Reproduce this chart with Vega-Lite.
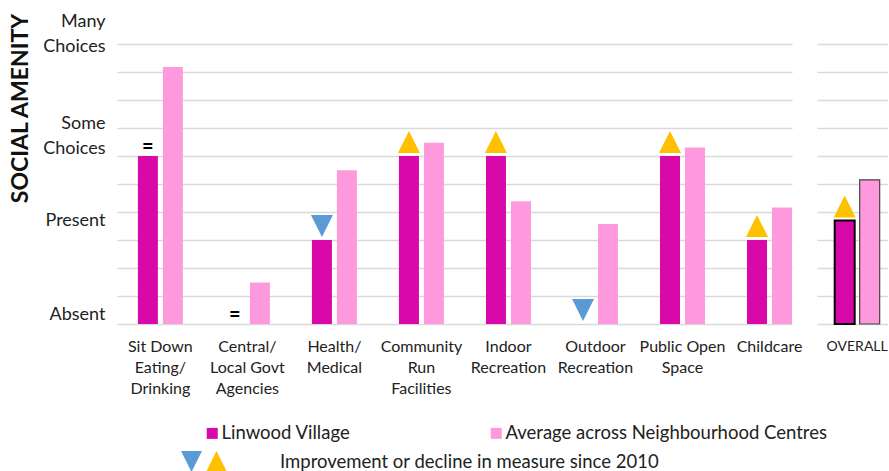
{
  "$schema": "https://vega.github.io/schema/vega-lite/v6.json",
  "autosize": {"type": "pad"},
  "padding": {"left": 9, "top": 12, "right": 0, "bottom": 0},
  "bounds": "flush",
  "spacing": 25,
  "background": "white",
  "config": {
    "view": {"stroke": null},
    "font": "Lato",
    "axis": {"ticks": false, "tickSize": 0, "domain": false, "labelColor": "#222", "titleColor": "#111", "gridColor": "#d9d9d9", "gridWidth": 1.6, "labelFont": "Lato"},
    "legend": {"labelFont": "Lato", "labelColor": "#222", "titleFont": "Lato", "titleColor": "#222"}
  },
  "datasets": {
    "bars": [
      {"category": "Sit Down\nEating/\nDrinking", "series": "Linwood Village", "value": 6},
      {"category": "Sit Down\nEating/\nDrinking", "series": "Average across Neighbourhood Centres", "value": 9.18},
      {"category": "Central/\nLocal Govt\nAgencies", "series": "Linwood Village", "value": 0},
      {"category": "Central/\nLocal Govt\nAgencies", "series": "Average across Neighbourhood Centres", "value": 1.48},
      {"category": "Health/\nMedical", "series": "Linwood Village", "value": 3},
      {"category": "Health/\nMedical", "series": "Average across Neighbourhood Centres", "value": 5.49},
      {"category": "Community\nRun\nFacilities", "series": "Linwood Village", "value": 6},
      {"category": "Community\nRun\nFacilities", "series": "Average across Neighbourhood Centres", "value": 6.47},
      {"category": "Indoor\nRecreation", "series": "Linwood Village", "value": 6},
      {"category": "Indoor\nRecreation", "series": "Average across Neighbourhood Centres", "value": 4.38},
      {"category": "Outdoor\nRecreation", "series": "Linwood Village", "value": 0},
      {"category": "Outdoor\nRecreation", "series": "Average across Neighbourhood Centres", "value": 3.57},
      {"category": "Public Open\nSpace", "series": "Linwood Village", "value": 6},
      {"category": "Public Open\nSpace", "series": "Average across Neighbourhood Centres", "value": 6.3},
      {"category": "Childcare", "series": "Linwood Village", "value": 3},
      {"category": "Childcare", "series": "Average across Neighbourhood Centres", "value": 4.16},
      {"category": "OVERALL", "series": "Linwood Village", "value": 3.7},
      {"category": "OVERALL", "series": "Average across Neighbourhood Centres", "value": 5.15}
    ],
    "markers": [
      {"category": "Sit Down\nEating/\nDrinking", "series": "Linwood Village", "change": "Same", "value": 6},
      {"category": "Central/\nLocal Govt\nAgencies", "series": "Linwood Village", "change": "Same", "value": 0},
      {"category": "Health/\nMedical", "series": "Linwood Village", "change": "Decline", "value": 3},
      {"category": "Community\nRun\nFacilities", "series": "Linwood Village", "change": "Improvement", "value": 6},
      {"category": "Indoor\nRecreation", "series": "Linwood Village", "change": "Improvement", "value": 6},
      {"category": "Outdoor\nRecreation", "series": "Linwood Village", "change": "Decline", "value": 0},
      {"category": "Public Open\nSpace", "series": "Linwood Village", "change": "Improvement", "value": 6},
      {"category": "Childcare", "series": "Linwood Village", "change": "Improvement", "value": 3},
      {"category": "OVERALL", "series": "Linwood Village", "change": "Improvement", "value": 3.7}
    ]
  },
  "hconcat": [
    {
      "width": 675,
      "height": 308,
      "encoding": {
        "x": {
          "field": "category", "type": "nominal", "sort": null,
          "scale": {"domain": ["Sit Down\nEating/\nDrinking", "Central/\nLocal Govt\nAgencies", "Health/\nMedical", "Community\nRun\nFacilities", "Indoor\nRecreation", "Outdoor\nRecreation", "Public Open\nSpace", "Childcare"], "paddingInner": 0.483, "paddingOuter": 0.12, "align": 1},
          "axis": {"title": null, "labelExpr": "split(datum.label, '\\n')", "labelAngle": 0, "labelFontSize": 16, "labelLineHeight": 21, "labelPadding": 14, "labelBaseline": "top", "grid": false}
        },
        "xOffset": {
          "field": "series", "type": "nominal", "sort": null,
          "scale": {"domain": ["Linwood Village", "Average across Neighbourhood Centres"], "paddingInner": 0.2, "paddingOuter": 0}
        }
      },
      "layer": [
        {
          "data": {"name": "bars"},
          "transform": [{"filter": "datum.category != 'OVERALL'"}],
          "mark": {"type": "bar"},
          "encoding": {
            "y": {
              "field": "value", "type": "quantitative",
              "scale": {"domain": [0, 11], "nice": false},
              "axis": {"orient": "left", "values": [0, 1, 2, 3, 4, 5, 6, 7, 8, 9, 10], "labels": false, "grid": true, "title": "SOCIAL AMENITY", "titleFont": "Lato", "titleFontWeight": "bold", "titleFontSize": 23, "titleX": -97, "titleY": 92, "titleAngle": 270, "titleAlign": "center", "titleBaseline": "middle"}
            },
            "color": {
              "field": "series", "type": "nominal",
              "scale": {"domain": ["Linwood Village", "Average across Neighbourhood Centres"], "range": ["#D908A8", "#FF99DD"]},
              "legend": {"orient": "none", "legendX": 86, "legendY": 408, "direction": "horizontal", "title": null, "symbolType": "square", "symbolSize": 121, "symbolStrokeWidth": 0, "labelFontSize": 18.5, "labelOffset": 0, "columnPadding": 136, "padding": 0, "labelLimit": 0}
            }
          }
        },
        {
          "data": {"name": "markers"},
          "transform": [{"filter": "datum.change != 'Same' && datum.category != 'OVERALL'"}],
          "mark": {"type": "point", "filled": true, "size": 484, "yOffset": -14, "opacity": 1, "strokeWidth": 0},
          "encoding": {
            "y": {"field": "value", "type": "quantitative", "scale": {"domain": [0, 11], "nice": false}, "axis": null},
            "fill": {
              "field": "change", "type": "nominal",
              "scale": {"domain": ["Decline", "Improvement"], "range": ["#5B9BD5", "#FFC000"]},
              "legend": {"orient": "none", "legendX": 64, "legendY": 435, "direction": "horizontal", "title": "Improvement or decline in measure since 2010", "titleOrient": "right", "titleAnchor": "middle", "titleBaseline": "middle", "titleFontSize": 18.5, "titleFontWeight": "normal", "titlePadding": 49, "titleLimit": 0, "symbolSize": 441, "symbolStrokeWidth": 0, "symbolOpacity": 1, "labelFontSize": 16, "labelOffset": 4, "columnPadding": 0, "padding": 0, "labelExpr": "''"}
            },
            "shape": {
              "field": "change", "type": "nominal",
              "scale": {"domain": ["Decline", "Improvement"], "range": ["M-1,-1L1,-1L0,1Z", "M0,-1L1,1L-1,1Z"]},
              "legend": {"orient": "none", "legendX": 64, "legendY": 435, "direction": "horizontal", "title": "Improvement or decline in measure since 2010", "titleOrient": "right", "titleAnchor": "middle", "titleBaseline": "middle", "titleFontSize": 18.5, "titleFontWeight": "normal", "titlePadding": 49, "titleLimit": 0, "symbolSize": 441, "symbolStrokeWidth": 0, "symbolOpacity": 1, "labelFontSize": 16, "labelOffset": 4, "columnPadding": 0, "padding": 0, "labelExpr": "''"}
            }
          }
        },
        {
          "data": {"name": "markers"},
          "transform": [{"filter": "datum.change == 'Same'"}],
          "mark": {"type": "text", "text": "=", "fontSize": 20, "fontWeight": "bold", "baseline": "middle", "yOffset": -9.5, "color": "#000"},
          "encoding": {
            "y": {
              "field": "value", "type": "quantitative",
              "scale": {"domain": [0, 11], "nice": false},
              "axis": {"orient": "left", "values": [0.33, 3.69, 7.15, 10.8], "labelExpr": "datum.value < 1 ? 'Absent' : datum.value < 5 ? 'Present' : datum.value < 8.5 ? ['Some', 'Choices'] : ['Many', 'Choices']", "grid": false, "title": null, "labelFontSize": 18, "labelLineHeight": 25, "labelPadding": 12, "labelBaseline": "middle", "labelAlign": "right", "labelOverlap": false, "labelFlush": false, "labelBound": false}
            }
          }
        }
      ],
      "resolve": {"axis": {"y": "independent"}}
    },
    {
      "width": 71,
      "height": 308,
      "encoding": {
        "x": {
          "field": "category", "type": "nominal", "sort": null,
          "scale": {"domain": ["OVERALL"], "paddingInner": 0, "paddingOuter": 0.289, "align": 0.68},
          "axis": {"title": null, "labelAngle": 0, "labelFontSize": 14, "labelPadding": 15, "labelBaseline": "top", "grid": false}
        },
        "xOffset": {
          "field": "series", "type": "nominal", "sort": null,
          "scale": {"domain": ["Linwood Village", "Average across Neighbourhood Centres"], "paddingInner": 0.2, "paddingOuter": 0}
        },
        "y": {
          "field": "value", "type": "quantitative",
          "scale": {"domain": [0, 11], "nice": false},
          "axis": {"orient": "left", "values": [0, 1, 2, 3, 4, 5, 6, 7, 8, 9, 10], "labels": false, "grid": true, "title": null}
        }
      },
      "layer": [
        {
          "data": {"name": "bars"},
          "transform": [{"filter": "datum.category == 'OVERALL' && datum.series == 'Linwood Village'"}],
          "mark": {"type": "bar", "stroke": "#000", "strokeWidth": 2},
          "encoding": {"color": {"field": "series", "type": "nominal"}}
        },
        {
          "data": {"name": "bars"},
          "transform": [{"filter": "datum.category == 'OVERALL' && datum.series != 'Linwood Village'"}],
          "mark": {"type": "bar", "stroke": "#444", "strokeWidth": 1.2},
          "encoding": {"color": {"field": "series", "type": "nominal"}}
        },
        {
          "data": {"name": "markers"},
          "transform": [{"filter": "datum.category == 'OVERALL'"}],
          "mark": {"type": "point", "filled": true, "size": 484, "yOffset": -14, "opacity": 1, "strokeWidth": 0},
          "encoding": {
            "fill": {"field": "change", "type": "nominal"},
            "shape": {"field": "change", "type": "nominal"}
          }
        }
      ]
    }
  ]
}
